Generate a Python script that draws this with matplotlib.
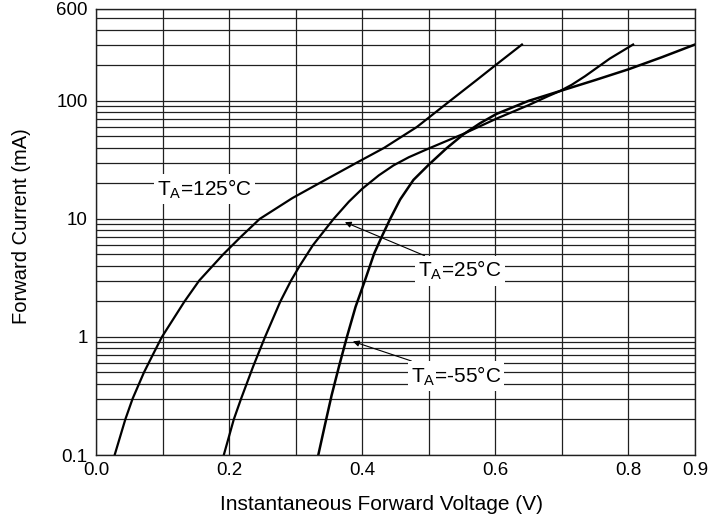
import matplotlib
matplotlib.use("Agg")
import matplotlib.pyplot as plt
from matplotlib.ticker import FixedLocator, NullFormatter

plt.rcParams['font.family'] = ['Liberation Sans', 'DejaVu Sans']
plt.rcParams['mathtext.fontset'] = 'custom'
plt.rcParams['mathtext.rm'] = 'Liberation Sans'

# forward voltage (V) / forward current (mA)
v_125 = [0.028, 0.044, 0.055, 0.072, 0.085, 0.099, 0.133, 0.155, 0.191, 0.217,
         0.246, 0.295, 0.335, 0.392, 0.433, 0.482, 0.532, 0.572, 0.600, 0.640]
i_125 = [0.1, 0.2, 0.3, 0.5, 0.7, 1.0, 2.0, 3.0, 5.0, 7.0,
         10, 15, 20, 30, 40, 60, 100, 150, 200, 300]

v_25 = [0.192, 0.207, 0.218, 0.236, 0.254, 0.277, 0.293, 0.306, 0.326, 0.357,
        0.380, 0.400, 0.425, 0.447, 0.470, 0.500, 0.552, 0.602, 0.650, 0.680,
        0.697, 0.715, 0.735, 0.772, 0.807]
i_25 = [0.1, 0.2, 0.3, 0.56, 1.0, 2.0, 3.0, 4.0, 6.0, 10,
        14, 18, 23.4, 28.4, 33.3, 39.5, 52.5, 70.8, 92, 110,
        121, 137, 162, 228, 300]

v_m55 = [0.334, 0.344, 0.354, 0.365, 0.377, 0.390, 0.404, 0.418, 0.430, 0.442,
         0.457, 0.477, 0.500, 0.527, 0.552, 0.577, 0.602, 0.650, 0.697, 0.750,
         0.800, 0.850, 0.900]
i_m55 = [0.1, 0.18, 0.32, 0.56, 1.0, 1.8, 3.0, 5.1, 7.2, 10,
         14.6, 21.4, 28.8, 39.8, 52, 64.6, 77.6, 100, 121, 150,
         185, 234, 300]

x_ticks = [0.0, 0.2, 0.4, 0.6, 0.8, 0.9]
x_ticklabels = ['0.0', '0.2', '0.4', '0.6', '0.8', '0.9']
y_ticks = [0.1, 1, 10, 100, 600]
y_ticklabels = ['0.1', '1', '10', '100', '600']

fig = plt.figure(figsize=(7.08, 5.23), dpi=100)
ax = fig.add_axes([0.1356, 0.1300, 0.846, 0.8528])

ax.set_yscale('log')
ax.set_xlim(0, 0.9)
ax.set_ylim(0.1, 600)

# grid: every 0.1 V, and 1..9 in each decade
ax.xaxis.set_major_locator(FixedLocator(x_ticks))
ax.xaxis.set_minor_locator(FixedLocator([0.1 * k for k in range(10)]))
ax.yaxis.set_major_locator(FixedLocator(y_ticks))
minors = [m * 10.0 ** e for e in range(-1, 3) for m in range(1, 10)]
ax.yaxis.set_minor_locator(FixedLocator([m for m in minors if m < 600]))
ax.yaxis.set_minor_formatter(NullFormatter())
ax.set_yticklabels(y_ticklabels)
ax.set_xticklabels(x_ticklabels)
ax.grid(True, which='both', color='#202020', linewidth=0.9)
ax.tick_params(which='both', length=0, labelsize=13.5)
ax.tick_params(axis='x', pad=5)
ax.tick_params(axis='y', pad=6)
for s in ax.spines.values():
    s.set_linewidth(1.0)
    s.set_color('#202020')

ax.plot(v_125, i_125, color='black', lw=1.6)
ax.plot(v_25, i_25, color='black', lw=1.6)
ax.plot(v_m55, i_m55, color='black', lw=1.8)

box = dict(boxstyle='square,pad=0.15', fc='white', ec='none')
ax.text(0.163, 17.8, r'T$_\mathregular{A}$=125°C', fontsize=15,
        ha='center', va='center', bbox=box, zorder=5)
ax.annotate(r'T$_\mathregular{A}$=25°C', xy=(0.374, 9.38), xytext=(0.547, 3.65),
            fontsize=15, ha='center', va='center', bbox=box, zorder=5,
            arrowprops=dict(arrowstyle='-|>', color='black', lw=0.8,
                            mutation_scale=9, shrinkA=0, shrinkB=0))
ax.annotate(r'T$_\mathregular{A}$=-55°C', xy=(0.386, 0.916), xytext=(0.541, 0.468),
            fontsize=15, ha='center', va='center', bbox=box, zorder=5,
            arrowprops=dict(arrowstyle='-|>', color='black', lw=0.8,
                            mutation_scale=9, shrinkA=0, shrinkB=0))

ax.set_xlabel('Instantaneous Forward Voltage (V)', fontsize=15)
ax.set_ylabel('Forward Current (mA)', fontsize=14.5)
ax.xaxis.set_label_coords(0.476, -0.0886)
ax.yaxis.set_label_coords(-0.1085, 0.514)

fig.savefig('out.png', dpi=100)
